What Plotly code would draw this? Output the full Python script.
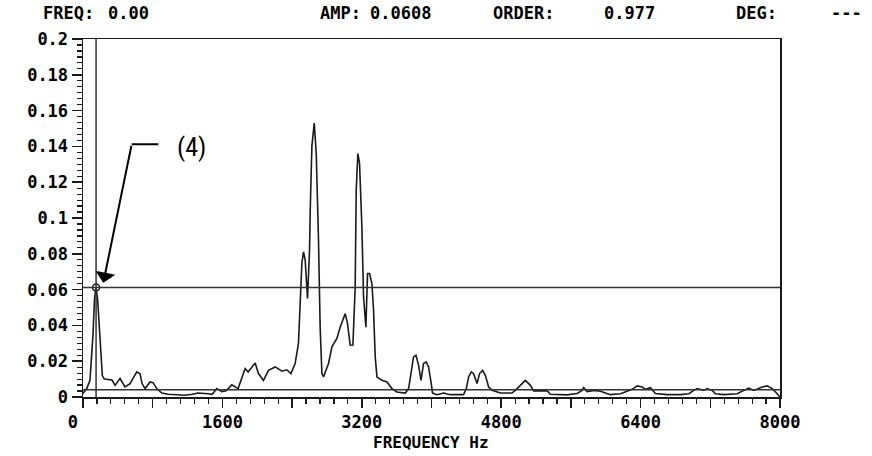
import plotly.graph_objects as go

# Spectrum trace (Hz, amplitude)
freq_hz = [0, 43, 80, 115, 132, 149, 167, 195, 222, 245, 287, 333, 368, 425, 482, 540, 617, 655,
           678, 712, 770, 804, 847, 904, 976, 1057, 1172, 1252, 1321, 1436, 1482, 1536, 1593, 1643,
           1708, 1780, 1861, 1895, 1976, 2014, 2071, 2129, 2206, 2283, 2340, 2386, 2435, 2473, 2493,
           2512, 2531, 2550, 2577, 2600, 2608, 2627, 2654, 2677, 2703, 2722, 2742, 2760, 2818, 2857,
           2914, 2952, 3010, 3036, 3067, 3098, 3124, 3136, 3155, 3174, 3201, 3220, 3247, 3266, 3289,
           3316, 3335, 3354, 3374, 3431, 3489, 3546, 3603, 3699, 3737, 3764, 3794, 3822, 3852, 3879,
           3909, 3940, 3966, 3994, 4012, 4063, 4139, 4216, 4368, 4400, 4426, 4457, 4483, 4522, 4552,
           4587, 4618, 4656, 4695, 4790, 4924, 4962, 5020, 5077, 5135, 5173, 5327, 5364, 5556, 5671,
           5729, 5747, 5786, 5862, 5939, 6054, 6169, 6226, 6303, 6360, 6418, 6456, 6513, 6570, 6705,
           6858, 6954, 7011, 7050, 7126, 7165, 7222, 7260, 7355, 7509, 7585, 7643, 7700, 7739, 7796,
           7853, 7911, 7968, 8000]
amplitude = [0.002, 0.0047, 0.0093, 0.035, 0.055, 0.0612, 0.055, 0.034, 0.012, 0.010, 0.0098, 0.0095,
             0.0065, 0.0103, 0.0057, 0.0075, 0.014, 0.013, 0.0075, 0.0047, 0.0084, 0.008, 0.0047, 0.0022,
             0.0015, 0.0013, 0.001, 0.0015, 0.0022, 0.0018, 0.0015, 0.0047, 0.003, 0.0035, 0.0068, 0.0047,
             0.0159, 0.014, 0.019, 0.0131, 0.0093, 0.0149, 0.0168, 0.0144, 0.0152, 0.0131, 0.0187, 0.0299,
             0.0522, 0.0746, 0.0811, 0.0765, 0.055, 0.082, 0.104, 0.14, 0.153, 0.136, 0.0876, 0.039,
             0.0131, 0.0112, 0.0187, 0.028, 0.0327, 0.039, 0.0466, 0.041, 0.0289, 0.029, 0.0615, 0.1156,
             0.136, 0.1305, 0.095, 0.056, 0.039, 0.069, 0.069, 0.0634, 0.0485, 0.0224, 0.0112, 0.0093,
             0.0084, 0.0047, 0.0028, 0.0022, 0.0047, 0.0131, 0.0224, 0.0233, 0.0177, 0.0093, 0.0187,
             0.0196, 0.0168, 0.0084, 0.0022, 0.0013, 0.0022, 0.0013, 0.0013, 0.0047, 0.0112, 0.014,
             0.013, 0.0075, 0.0131, 0.0149, 0.0121, 0.0056, 0.0037, 0.0022, 0.0022, 0.0037, 0.0065,
             0.0093, 0.0065, 0.0034, 0.0034, 0.0015, 0.0012, 0.002, 0.0037, 0.0052, 0.003, 0.0037,
             0.0032, 0.0013, 0.0018, 0.003, 0.0043, 0.0062, 0.0056, 0.0043, 0.0052, 0.0019, 0.0013,
             0.0013, 0.0018, 0.0037, 0.0047, 0.0037, 0.0047, 0.0037, 0.0018, 0.0013, 0.0018, 0.0037,
             0.005, 0.0037, 0.0045, 0.0056, 0.0062, 0.0047, 0.0018, 0.0]

cursor_freq = 150
cursor_amp = 0.0612
floor_amp = 0.0041

x_tickvals = [0, 800, 1600, 2400, 3200, 4000, 4800, 5600, 6400, 7200, 8000]
x_ticktext = ["0\u00a0\u00a0", "", "1600", "", "3200", "", "4800", "", "6400", "", "8000"]
y_tickvals = [0, 0.02, 0.04, 0.06, 0.08, 0.1, 0.12, 0.14, 0.16, 0.18, 0.2]
y_ticktext = ["0", "0.02", "0.04", "0.06", "0.08", "0.1", "0.12", "0.14", "0.16", "0.18", "0.2"]

header_text = ["FREQ:", "0.00", "AMP:", "0.0608", "ORDER:", "0.977", "DEG:", "---"]
header_left_px = [41, 106, 318, 368, 491, 602, 734, 829]

W, H = 872, 456
ML, MR, MT, MB = 83, 92, 39, 59
PW, PH = W - ML - MR, H - MT - MB


def px_x(px):
    return (px - ML) / PW


def px_y(py):
    return (MT + PH - py) / PH


mono = "DejaVu Sans Mono"
ink = "#1a1a1a"

fig = go.Figure()
fig.add_trace(go.Scatter(x=freq_hz, y=amplitude, mode="lines",
                         line=dict(color=ink, width=1.6), hoverinfo="skip", showlegend=False))
fig.add_trace(go.Scatter(x=[cursor_freq], y=[cursor_amp], mode="markers",
                         marker=dict(symbol="circle-open", size=7, color=ink, line=dict(width=1.5)),
                         hoverinfo="skip", showlegend=False))

# cursor lines
fig.add_shape(type="line", x0=cursor_freq, x1=cursor_freq, y0=0, y1=0.2, xref="x", yref="y",
              line=dict(color="#333", width=1.5))
fig.add_shape(type="line", x0=0, x1=8000, y0=cursor_amp, y1=cursor_amp, xref="x", yref="y",
              line=dict(color="#333", width=1.5))
fig.add_shape(type="line", x0=0, x1=8000, y0=floor_amp, y1=floor_amp, xref="x", yref="y",
              line=dict(color="#333", width=1.5))

# callout
fig.add_shape(type="line", x0=559, x1=865, y0=0.1412, y1=0.1412, xref="x", yref="y",
              line=dict(color="black", width=2))
fig.add_annotation(x=233, y=0.0638, ax=559, ay=0.1412, xref="x", yref="y", axref="x", ayref="y",
                   text="", showarrow=True, arrowhead=1, arrowsize=1.7, arrowwidth=2,
                   arrowcolor="black")
fig.add_annotation(x=1241, y=0.1397, xref="x", yref="y", text="(4)", showarrow=False,
                   font=dict(family="Liberation Sans Narrow, Roboto Condensed, Roboto", size=26,
                             color="black"))

for txt, px in zip(header_text, header_left_px):
    fig.add_annotation(x=px_x(px), y=px_y(13), xref="paper", yref="paper",
                       xanchor="left", yanchor="middle", text="<b>%s</b>" % txt, showarrow=False,
                       font=dict(family=mono, size=17, color="black"))

fig.add_annotation(x=px_x(431), y=px_y(442), xref="paper", yref="paper",
                   xanchor="center", yanchor="middle",
                   text="<b>FREQUENCY Hz</b>", showarrow=False,
                   font=dict(family=mono, size=16, color="black"))

fig.update_layout(
    width=W, height=H,
    margin=dict(l=ML, r=MR, t=MT, b=MB),
    paper_bgcolor="white", plot_bgcolor="white",
    hovermode=False,
    xaxis=dict(range=[0, 8000], showgrid=False, zeroline=False,
               showline=True, mirror=True, linecolor=ink, linewidth=1.5,
               tickmode="array", tickvals=x_tickvals, ticktext=x_ticktext,
               ticks="outside", ticklen=9, tickwidth=1.5, tickcolor=ink,
               minor=dict(dtick=160, tick0=0, ticks="outside", ticklen=5, tickwidth=1.2, tickcolor=ink),
               tickfont=dict(family=mono, size=17, color="black", weight="bold")),
    yaxis=dict(range=[0, 0.2], showgrid=False, zeroline=False,
               showline=True, mirror=True, linecolor=ink, linewidth=1.5,
               tickmode="array", tickvals=y_tickvals, ticktext=y_ticktext,
               ticks="outside", ticklen=10, tickwidth=1.5, tickcolor=ink,
               minor=dict(dtick=0.02 / 6, tick0=0, ticks="outside", ticklen=5, tickwidth=1.2, tickcolor=ink),
               tickfont=dict(family=mono, size=17, color="black", weight="bold")),
)

fig.write_html("out.html", config={"displayModeBar": False, "staticPlot": True},
               post_script="document.body.style.margin='0';")
